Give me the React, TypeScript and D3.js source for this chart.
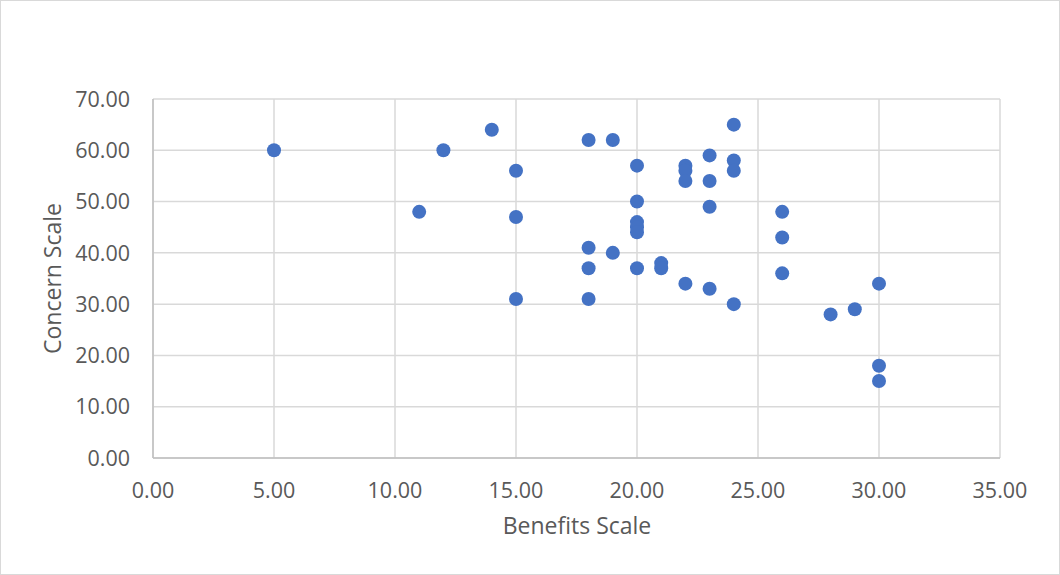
import React from "react";
import * as d3 from "d3";

const benefits = [5, 11, 12, 14, 15, 15, 15, 18, 18, 18, 18, 19, 19, 20, 20, 20, 20, 20, 20, 21, 21, 22, 22, 22, 22, 23, 23, 23, 23, 24, 24, 24, 24, 26, 26, 26, 28, 29, 30, 30, 30];
const concern = [60, 48, 60, 64, 56, 47, 31, 62, 41, 37, 31, 62, 40, 57, 50, 46, 45, 44, 37, 38, 37, 57, 56, 54, 34, 59, 54, 49, 33, 65, 58, 56, 30, 48, 43, 36, 28, 29, 34, 18, 15];
const xTicks = [0, 5, 10, 15, 20, 25, 30, 35];
const yTicks = [0, 10, 20, 30, 40, 50, 60, 70];
const xTitle = "Benefits Scale";
const yTitle = "Concern Scale";

const W = 1060;
const H = 575;
const left = 153;
const right = 1000;
const top = 99;
const bottom = 458;

export default function App() {
  const x = d3.scaleLinear().domain([0, 35]).range([left, right]);
  const y = d3.scaleLinear().domain([0, 70]).range([bottom, top]);
  const font = "'Open Sans', 'Liberation Sans', sans-serif";
  const txt = "#595959";
  return (
    <svg width={W} height={H} style={{ position: "absolute", left: 0, top: 0, background: "#fff" }}>
      <rect x={0.5} y={0.5} width={W - 1} height={H - 1} fill="#fff" stroke="#d9d9d9" />
      {xTicks.map((t) => (
        <line key={"gx" + t} x1={x(t)} x2={x(t)} y1={y(70)} y2={y(0)} stroke="#d9d9d9" strokeWidth={1.5} />
      ))}
      {yTicks.map((t) => (
        <line key={"gy" + t} x1={x(0)} x2={x(35)} y1={y(t)} y2={y(t)} stroke="#d9d9d9" strokeWidth={1.5} />
      ))}
      <line x1={x(0)} x2={x(0)} y1={y(70)} y2={y(0)} stroke="#bfbfbf" strokeWidth={1.5} />
      <line x1={x(0)} x2={x(35)} y1={y(0)} y2={y(0)} stroke="#bfbfbf" strokeWidth={1.5} />
      {yTicks.map((t) => (
        <text key={"ly" + t} x={130} y={y(t)} dy="0.36em" textAnchor="end" fontFamily={font} fontSize={21.5} fill={txt}>
          {t.toFixed(2)}
        </text>
      ))}
      {xTicks.map((t) => (
        <text key={"lx" + t} x={x(t)} y={498} textAnchor="middle" fontFamily={font} fontSize={21.5} fill={txt}>
          {t.toFixed(2)}
        </text>
      ))}
      <text x={577} y={534} textAnchor="middle" fontFamily={font} fontSize={23} fill={txt}>
        {xTitle}
      </text>
      <text transform={`translate(61, ${(top + bottom) / 2}) rotate(-90)`} textAnchor="middle" fontFamily={font} fontSize={23} fill={txt}>
        {yTitle}
      </text>
      {benefits.map((b, i) => (
        <circle key={i} cx={x(b)} cy={y(concern[i])} r={7} fill="#4472C4" />
      ))}
    </svg>
  );
}
